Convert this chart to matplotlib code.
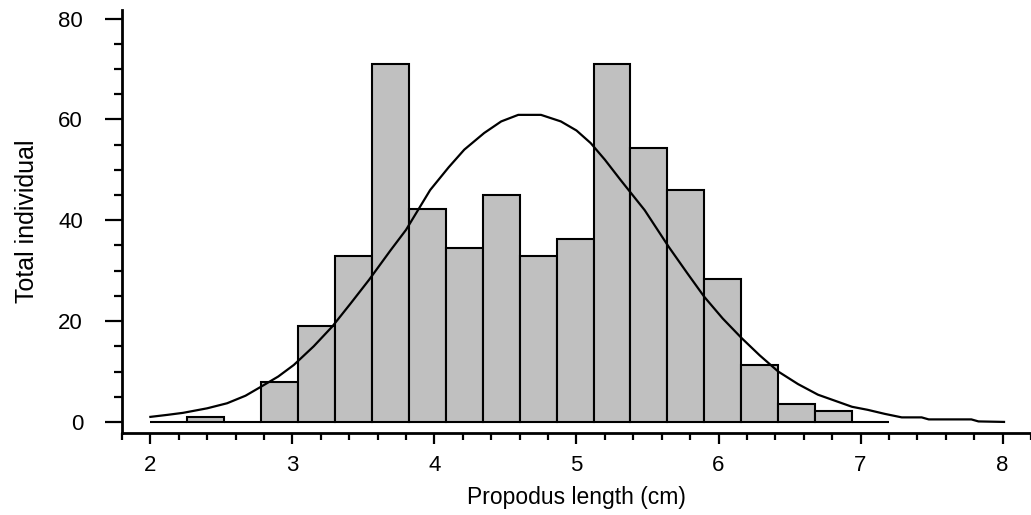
import matplotlib.pyplot as plt
from matplotlib.ticker import MultipleLocator

plt.rcParams['font.family'] = ['Liberation Sans', 'DejaVu Sans']

# histogram bins (cm) and counts
bin_edges = [2.00, 2.26, 2.52, 2.78, 3.04, 3.30, 3.56, 3.82, 4.08, 4.34, 4.60,
             4.86, 5.12, 5.38, 5.64, 5.90, 6.16, 6.42, 6.68, 6.94, 7.20]
counts = [0, 1, 0, 8, 19, 33, 71, 42.3, 34.5, 45, 33,
          36.3, 71, 54.3, 46, 28.4, 11.3, 3.6, 2.2, 0]

# fitted curve
curve_x = [2.00, 2.12, 2.23, 2.40, 2.54, 2.67, 2.78, 2.90, 3.01, 3.15, 3.28,
           3.41, 3.54, 3.69, 3.80, 3.97, 4.10, 4.21, 4.35, 4.47, 4.59, 4.75,
           4.89, 5.00, 5.10, 5.20, 5.31, 5.48, 5.65, 5.78, 5.90, 6.03, 6.16,
           6.29, 6.42, 6.56, 6.70, 6.82, 6.94, 7.05, 7.17, 7.29, 7.43, 7.48,
           7.78, 7.83, 8.01]
curve_y = [1.0, 1.4, 1.8, 2.7, 3.7, 5.2, 7.0, 9.0, 11.3, 15.0, 18.9,
           23.5, 28.2, 34.0, 38.1, 46.0, 50.5, 54.0, 57.3, 59.6, 60.9, 60.9,
           59.6, 57.8, 55.3, 52.0, 48.0, 42.0, 34.7, 29.5, 24.8, 20.5, 16.7,
           13.2, 10.0, 7.5, 5.4, 4.2, 3.0, 2.4, 1.6, 0.9, 0.9, 0.5,
           0.5, 0.1, 0.0]

fig = plt.figure(figsize=(10.31, 5.15), dpi=100)
ax = fig.add_axes([0.1183, 0.1592, 0.8817, 0.8214])

lefts = bin_edges[:-1]
widths = [b - a for a, b in zip(bin_edges[:-1], bin_edges[1:])]
ax.bar(lefts, counts, width=widths, align='edge', color='#c0c0c0',
       edgecolor='black', linewidth=1.5)
ax.plot(curve_x, curve_y, color='black', linewidth=1.6)

ax.set_xlim(1.8, 8.2)
ax.set_ylim(-2.2, 81.7)
ax.xaxis.set_major_locator(MultipleLocator(1))
ax.xaxis.set_minor_locator(MultipleLocator(0.2))
ax.yaxis.set_major_locator(MultipleLocator(20))
ax.yaxis.set_minor_locator(MultipleLocator(5))

for s in ['top', 'right']:
    ax.spines[s].set_visible(False)
for s in ['left', 'bottom']:
    ax.spines[s].set_linewidth(2)

ax.tick_params(axis='y', which='major', length=12, width=1.6, pad=16, labelsize=16)
ax.tick_params(axis='y', which='minor', length=6, width=1.6)
ax.tick_params(axis='x', which='major', length=8, width=1.6, pad=8, labelsize=16)
ax.tick_params(axis='x', which='minor', length=5, width=1.6)

ax.set_xlabel('Propodus length (cm)', fontsize=16.5, labelpad=7)
ax.set_ylabel('Total individual', fontsize=18, labelpad=14)

fig.savefig('out.png', dpi=100)
